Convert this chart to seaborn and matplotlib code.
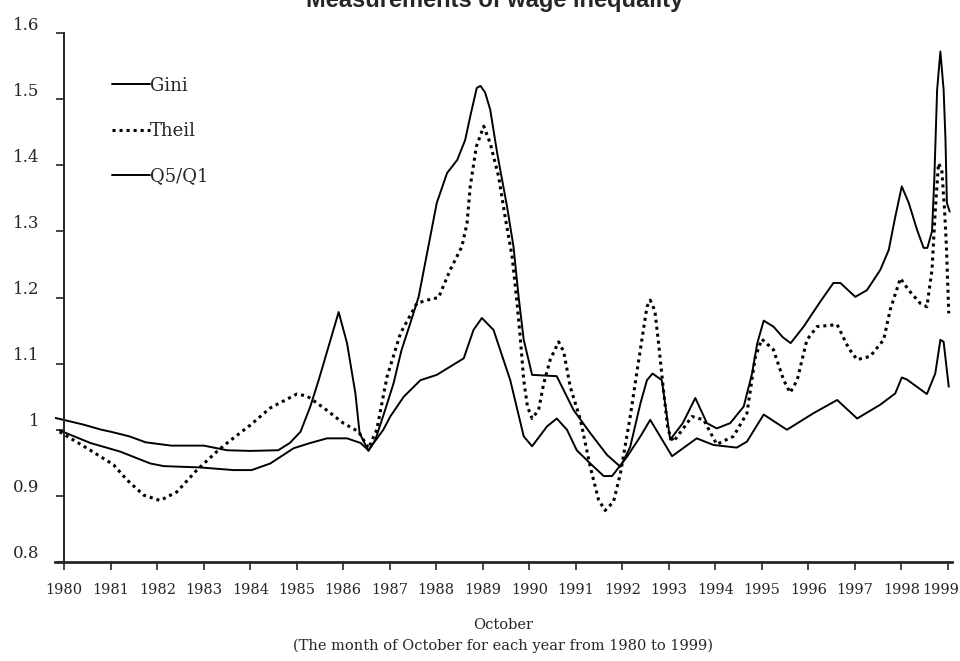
import numpy as np
import pandas as pd
import matplotlib
matplotlib.use("Agg")
import matplotlib.pyplot as plt
import matplotlib.transforms as mtransforms
import seaborn as sns

# values (index, October of each year, sub-year points for shape)
gini_year = [1979.9, 1980.56, 1981.2, 1981.85, 1982.14, 1982.92, 1983.64, 1984.03, 1984.43,
             1984.93, 1985.29, 1985.65, 1986.08, 1986.37, 1986.54, 1986.86, 1987.01, 1987.3,
             1987.66, 1988.01, 1988.59, 1988.8, 1988.98, 1989.23, 1989.59, 1989.88, 1990.06,
             1990.38, 1990.59, 1990.81, 1991.02, 1991.31, 1991.6, 1991.78, 1992.1, 1992.39,
             1992.6, 1993.07, 1993.6, 1993.96, 1994.46, 1994.68, 1995.04, 1995.54, 1996.11,
             1996.62, 1997.05, 1997.55, 1997.87, 1998.01, 1998.12, 1998.55, 1998.73, 1998.84,
             1998.91, 1999.02]
gini = [0.999, 0.98, 0.967, 0.949, 0.945, 0.943, 0.939, 0.939, 0.949,
        0.972, 0.98, 0.987, 0.987, 0.98, 0.969, 1.0, 1.02, 1.05,
        1.075, 1.083, 1.108, 1.151, 1.169, 1.151, 1.075, 0.99, 0.975,
        1.005, 1.017, 1.0, 0.969, 0.949, 0.93, 0.93, 0.959, 0.99,
        1.015, 0.96, 0.987, 0.977, 0.973, 0.982, 1.023, 1.0, 1.025,
        1.045, 1.017, 1.038, 1.055, 1.079, 1.076, 1.054, 1.085, 1.136,
        1.133, 1.065]

theil_year = [1979.9, 1980.56, 1981.06, 1981.35, 1981.71, 1982.06, 1982.42, 1982.85, 1983.28,
              1983.5, 1984.0, 1984.43, 1985.0, 1985.22, 1985.58, 1986.0, 1986.33, 1986.54,
              1986.72, 1986.94, 1987.23, 1987.58, 1987.8, 1988.05, 1988.3, 1988.55, 1988.66,
              1988.73, 1988.86, 1989.02, 1989.16, 1989.34, 1989.48, 1989.63, 1989.73, 1989.81,
              1989.88, 1989.96, 1990.06, 1990.2, 1990.31, 1990.45, 1990.63, 1990.74, 1990.88,
              1991.1, 1991.31, 1991.49, 1991.63, 1991.81, 1991.96, 1992.17, 1992.32, 1992.53,
              1992.6, 1992.7, 1992.78, 1992.87, 1992.98, 1993.1, 1993.5, 1993.75, 1994.03,
              1994.39, 1994.68, 1994.86, 1995.0, 1995.25, 1995.47, 1995.61, 1995.76, 1995.97,
              1996.19, 1996.62, 1996.87, 1997.05, 1997.33, 1997.62, 1997.76, 1997.98, 1998.16,
              1998.41, 1998.55, 1998.66, 1998.73, 1998.8, 1998.87, 1998.93, 1998.97, 1999.02]
theil = [0.997, 0.969, 0.947, 0.924, 0.901, 0.893, 0.906, 0.939, 0.967,
         0.98, 1.007, 1.033, 1.054, 1.051, 1.033, 1.01, 0.997, 0.972,
         1.0, 1.08, 1.146, 1.191, 1.196, 1.2, 1.242, 1.277, 1.312,
         1.368, 1.428, 1.459, 1.433, 1.383, 1.322, 1.262, 1.196, 1.136,
         1.075, 1.035, 1.017, 1.03, 1.07, 1.106, 1.133, 1.118, 1.065,
         1.015, 0.944, 0.894, 0.878, 0.891, 0.934, 1.02, 1.09, 1.186,
         1.196, 1.18, 1.131, 1.07, 1.0, 0.982, 1.02, 1.015, 0.978,
         0.99, 1.025, 1.11, 1.137, 1.121, 1.075, 1.056, 1.075, 1.136,
         1.156, 1.159, 1.123, 1.106, 1.111, 1.136, 1.181, 1.229, 1.211,
         1.191, 1.186, 1.242, 1.332, 1.403, 1.393, 1.332, 1.277, 1.176]

q5q1_year = [1979.8, 1980.4, 1980.8, 1981.0, 1981.4, 1981.75, 1982.3, 1983.0, 1983.5,
             1984.0, 1984.6, 1984.85, 1985.08, 1985.29, 1985.47, 1985.65, 1985.9, 1986.08,
             1986.26, 1986.35, 1986.54, 1986.69, 1986.9, 1987.08, 1987.25, 1987.44, 1987.62,
             1987.87, 1988.01, 1988.23, 1988.45, 1988.62, 1988.73, 1988.87, 1988.95, 1989.05,
             1989.16, 1989.31, 1989.52, 1989.66, 1989.77, 1989.88, 1990.06, 1990.59, 1990.95,
             1991.31, 1991.67, 1991.96, 1992.17, 1992.39, 1992.53, 1992.65, 1992.85, 1993.03,
             1993.3, 1993.57, 1993.82, 1994.03, 1994.32, 1994.61, 1994.79, 1994.9, 1995.04,
             1995.25, 1995.45, 1995.62, 1995.9, 1996.26, 1996.54, 1996.69, 1997.01, 1997.26,
             1997.55, 1997.73, 1997.87, 1998.01, 1998.16, 1998.34, 1998.48, 1998.56, 1998.66,
             1998.71, 1998.77, 1998.84, 1998.91, 1998.95, 1998.98, 1999.04]
q5q1 = [1.018, 1.008, 1.0, 0.997, 0.99, 0.981, 0.976, 0.976, 0.969,
        0.968, 0.969, 0.98, 0.997, 1.035, 1.075, 1.118, 1.178, 1.131,
        1.055, 0.995, 0.968, 0.985, 1.03, 1.07, 1.12, 1.161, 1.201,
        1.292, 1.343, 1.388, 1.408, 1.438, 1.474, 1.517, 1.52, 1.51,
        1.484, 1.418, 1.338, 1.277, 1.201, 1.136, 1.083, 1.081, 1.03,
        0.995, 0.962, 0.944, 0.974, 1.04, 1.075, 1.085, 1.075, 0.985,
        1.01, 1.048, 1.01, 1.002, 1.01, 1.035, 1.085, 1.13, 1.165,
        1.156, 1.14, 1.131, 1.156, 1.194, 1.222, 1.222, 1.201, 1.211,
        1.242, 1.272, 1.322, 1.368, 1.343, 1.302, 1.275, 1.275, 1.30,
        1.38, 1.514, 1.572, 1.514, 1.438, 1.343, 1.33]

year_ticks = list(range(1980, 2000))
y_ticks = [0.8, 0.9, 1.0, 1.1, 1.2, 1.3, 1.4, 1.5, 1.6]
y_tick_labels = ["0.8", "0.9", "1", "1.1", "1.2", "1.3", "1.4", "1.5", "1.6"]

sns.set_style("ticks")
plt.rcParams['font.family'] = ['DejaVu Serif']

fig = plt.figure(figsize=(9.6, 6.61), dpi=100)
ax = fig.add_axes([55 / 960, 1 - 562 / 661, (952 - 55) / 960, (562 - 33) / 661])

sns.lineplot(x=gini_year, y=gini, ax=ax, color="black", linewidth=1.4,
             sort=False, estimator=None, label="Gini")
sns.lineplot(x=theil_year, y=theil, ax=ax, color="black", linewidth=2.2,
             linestyle=(0, (1, 1.3)), sort=False, estimator=None, label="Theil")
sns.lineplot(x=q5q1_year, y=q5q1, ax=ax, color="black", linewidth=1.4,
             sort=False, estimator=None, label="Q5/Q1")

# spines first: moving a spine resets the ticks
sns.despine(ax=ax)
ax.spines['left'].set_position(('data', 1980))
ax.spines['left'].set_linewidth(1.4)
ax.spines['bottom'].set_linewidth(2.0)

ax.set_xlim(1979.8, 1999.09)
ax.set_ylim(0.8, 1.6)
ax.set_xticks(year_ticks)
ax.set_xticklabels([str(y) for y in year_ticks])
ax.set_yticks(y_ticks)
ax.set_yticklabels(y_tick_labels)
ax.tick_params(axis="x", direction="out", length=6, width=1.2, pad=9, labelsize=10.5)
ax.tick_params(axis="y", direction="out", length=6, width=1.2, pad=12, labelsize=12)

# y labels sit a bit above their ticks in the original
offset = mtransforms.ScaledTranslation(0, 0.1, fig.dpi_scale_trans)
for lab in ax.get_yticklabels():
    lab.set_transform(lab.get_transform() + offset)
last = ax.get_xticklabels()[-1]
last.set_transform(last.get_transform() + mtransforms.ScaledTranslation(-0.07, 0, fig.dpi_scale_trans))

ax.set_xlabel("October\n(The month of October for each year from 1980 to 1999)",
              fontsize=10.5, labelpad=15, linespacing=1.6)
ax.set_ylabel("")

ax.legend(loc="upper left", bbox_to_anchor=(0.045, 0.948), frameon=False,
          fontsize=13, handlelength=2.1, handletextpad=0.0, labelspacing=1.5)

fig.text(495 / 960, 1 - 7 / 661, "Measurements of wage inequality", ha="center",
         va="baseline", fontsize=17, fontweight="bold", family="Liberation Sans")

fig.savefig("out.png", dpi=100)
